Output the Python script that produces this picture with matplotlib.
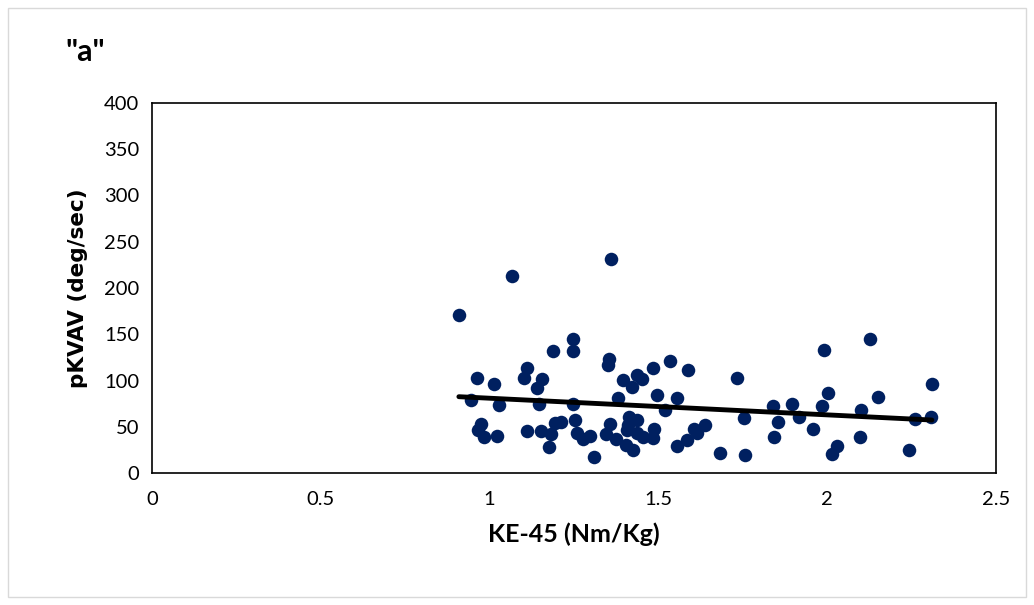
import numpy as np
import matplotlib
matplotlib.use("Agg")
import matplotlib.pyplot as plt
from matplotlib.patches import Rectangle

plt.rcParams['font.family'] = ['Lato', 'DejaVu Sans']

# KE-45 (Nm/Kg) vs pKVAV (deg/sec)
ke45 = [0.909, 1.066, 1.359, 0.964, 1.013, 0.945, 1.029, 0.974, 0.967, 0.983,
        1.021, 1.112, 1.102, 1.155, 1.139, 1.147, 1.112, 1.151, 1.182, 1.175,
        1.195, 1.212, 1.187, 1.248, 1.246, 1.248, 1.253, 1.258, 1.278, 1.297,
        1.309, 1.355, 1.350, 1.344, 1.358, 1.374, 1.381, 1.396, 1.421, 1.436,
        1.451, 1.412, 1.411, 1.438, 1.406, 1.436, 1.453, 1.404, 1.424, 1.485,
        1.497, 1.520, 1.488, 1.485, 1.534, 1.554, 1.589, 1.556, 1.584, 1.605,
        1.613, 1.638, 1.682, 1.732, 1.757, 1.754, 1.840, 1.855, 1.842, 1.895,
        1.916, 1.959, 1.984, 2.001, 1.990, 2.028, 2.014, 2.101, 2.096, 2.127,
        2.150, 2.242, 2.260, 2.307, 2.310]
pkvav = [170.5, 213, 231, 103, 96, 79, 74, 53, 47, 39,
         40, 113, 103, 102, 92, 75, 45, 45, 42, 28,
         54, 55, 132, 145, 132, 75, 57, 43, 37, 40,
         17, 123, 117, 42, 53, 37, 81, 100.5, 93, 106,
         102, 61, 52, 57, 46.5, 43, 38.6, 30, 25, 114,
         84, 68, 48, 37.5, 121, 81, 111, 29.5, 36, 47.5,
         43, 52, 22, 103, 19, 60, 72, 55, 39, 74.6,
         61, 48, 72, 86, 133, 29, 20.5, 68, 39, 145,
         82.5, 24.5, 58, 60.5, 96]

x_ticks = [0, 0.5, 1, 1.5, 2, 2.5]
x_tick_labels = ["0", "0.5", "1", "1.5", "2", "2.5"]
y_ticks = [0, 50, 100, 150, 200, 250, 300, 350, 400]

fig = plt.figure(figsize=(10.34, 6.05), dpi=100)
ax = fig.add_axes([152 / 1034, 1 - 473 / 605, (996 - 152) / 1034, (473 - 103) / 605])

ax.scatter(ke45, pkvav, s=95, color="#002060", zorder=3, linewidths=0)

# linear trendline
k, b = np.polyfit(ke45, pkvav, 1)
xs = np.array([min(ke45), max(ke45)])
ax.plot(xs, k * xs + b, color="black", lw=3.5, zorder=4, solid_capstyle="round")

ax.set_xlim(0, 2.5)
ax.set_ylim(0, 400)
ax.set_xticks(x_ticks)
ax.set_xticklabels(x_tick_labels)
ax.set_yticks(y_ticks)
ax.tick_params(length=0, labelsize=14.5, pad=9, colors="#000000")
ax.tick_params(axis="x", pad=13)
for sp in ax.spines.values():
    sp.set_color("black")
    sp.set_linewidth(1.2)

ax.set_xlabel("KE-45 (Nm/Kg)", fontsize=18, fontweight="bold", labelpad=10)
ax.set_ylabel("pKVAV (deg/sec)", fontsize=15.5, fontweight="bold", labelpad=12,
              family="DejaVu Sans")

fig.text(65 / 1034, 1 - 52 / 605, '"a"', fontsize=22, fontweight="bold", va="center", ha="left")

# light frame round the chart
fig.patches.append(Rectangle((8 / 1034, 8 / 605), 1018 / 1034, 589 / 605,
                             transform=fig.transFigure, fill=False,
                             edgecolor="#d9d9d9", lw=1))

fig.savefig("out.png", dpi=100, facecolor="white")
